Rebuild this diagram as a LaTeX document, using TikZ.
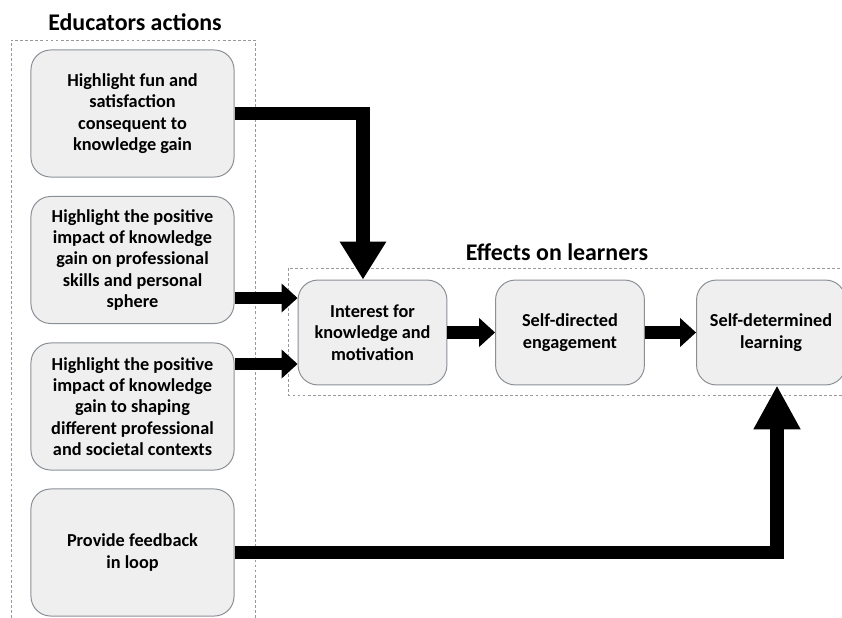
\documentclass[tikz,border=0pt]{standalone}
\usepackage{fontspec}
\setmainfont{Carlito}
\usetikzlibrary{arrows.meta}
\definecolor{boxfill}{HTML}{EFEFEF}
\definecolor{boxline}{HTML}{8A8F96}

\begin{document}
\begin{tikzpicture}[x=0.025cm, y=-0.025cm,
  font=\bfseries\fontsize{13}{15.2}\selectfont,
  action/.style={draw=boxline, fill=boxfill, line width=0.7pt, rounded corners=14pt,
                 minimum width=5.075cm, minimum height=3.175cm, align=center},
  effect/.style={draw=boxline, fill=boxfill, line width=0.7pt, rounded corners=14pt,
                 minimum width=3.72cm, minimum height=2.62cm, align=center},
  frame/.style={draw=gray!80, line width=0.5pt, dash pattern=on 2pt off 1.6pt},
  title/.style={font=\bfseries\fontsize{17}{20}\selectfont},
  bigarr/.style={line width=0.34cm, -{Triangle[length=#1, width=1.1cm]}},
  smallarr/.style={line width=0.31cm, -{Triangle[length=0.4cm, width=0.7cm]}}
]
  \useasboundingbox (0,0) rectangle (842,618);
  % cadres
  \node[title] (edutitle) at (135,22) {Educators actions};
  \node[title] (efftitle) at (557,252) {Effects on learners};
  \draw[frame] (11,618) -- (11,40) -- (255,40) -- (255,618);
  \draw[frame] (850,268) -- (288,268) -- (288,395) -- (850,395);
  % educators actions
  \node[action] (fun)  at (132.5,113.5) {Highlight fun and\\satisfaction\\consequent to\\knowledge gain};
  \node[action] (skill) at (132.5,260) {Highlight the positive\\impact of knowledge\\gain on professional\\skills and personal\\sphere};
  \node[action] (ctx)  at (132.5,406.5) {Highlight the positive\\impact of knowledge\\gain to shaping\\different professional\\and societal contexts};
  \node[action] (loop) at (132.5,552.5) {Provide feedback\\in loop};
  % effects on learners
  \node[effect] (inter) at (372.5,332.5) {Interest for\\knowledge and\\motivation};
  \node[effect] (engag) at (570,332.5) {Self-directed\\engagement};
  \node[effect] (learn) at (771,332.5) {Self-determined\\learning};
  % fleches
  \draw[bigarr=0.95cm] (fun.east) -| (inter.north -| 363,0);
  \draw[smallarr] (skill.east |- 0,298) -- (inter.west |- 0,298);
  \draw[smallarr] (ctx.east |- 0,364) -- (inter.west |- 0,364);
  \draw[smallarr] (inter) -- (engag);
  \draw[smallarr] (engag) -- (learn);
  \draw[bigarr=1.1cm] (loop.east) -| (learn.south -| 777,0);
\end{tikzpicture}
\end{document}
